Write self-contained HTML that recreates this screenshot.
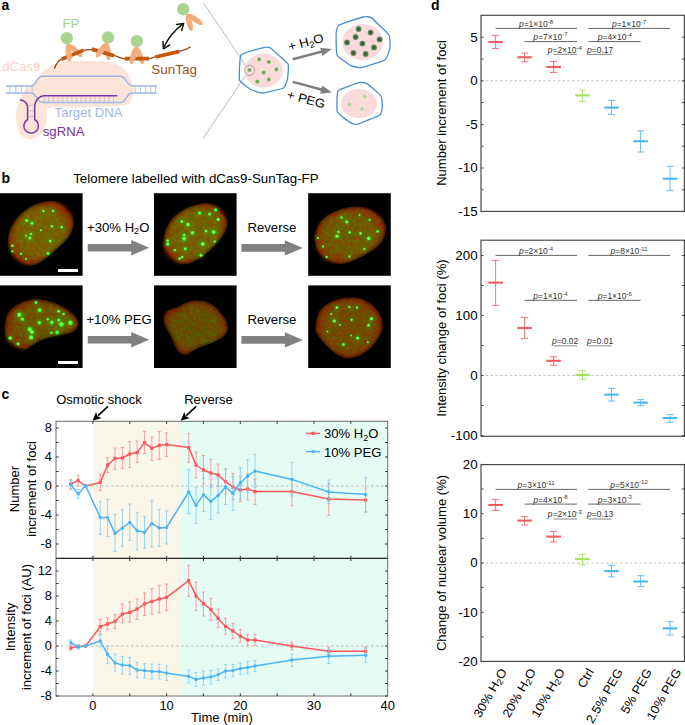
<!DOCTYPE html>
<html><head><meta charset="utf-8"><style>
html,body{margin:0;padding:0;background:#fff;}
svg{display:block;}
text{font-family:"Liberation Sans", sans-serif;}
</style></head><body>
<svg width="685" height="725" viewBox="0 0 685 725" font-family='"Liberation Sans", sans-serif'>
<rect width="685" height="725" fill="#fff"/>
<rect x="92.90" y="421.3" width="88.44" height="274.7" fill="#fbf6ea"/>
<rect x="181.34" y="421.3" width="206.36" height="274.7" fill="#e5fcf5"/>
<line x1="56.0" y1="486.0" x2="387.7" y2="486.0" stroke="#b0b0b0" stroke-width="0.8" stroke-dasharray="2.5,2.5"/>
<line x1="56.0" y1="646.0" x2="387.7" y2="646.0" stroke="#b0b0b0" stroke-width="0.8" stroke-dasharray="2.5,2.5"/>
<path d="M70.79 479.4V489.6M69.19 479.4h3.2M69.19 489.6h3.2" stroke="#f88a8c" stroke-width="0.8" fill="none"/>
<path d="M78.16 475.4V486M76.56 475.4h3.2M76.56 486h3.2" stroke="#f88a8c" stroke-width="0.8" fill="none"/>
<path d="M100.27 474V490.4M98.67 474h3.2M98.67 490.4h3.2" stroke="#f88a8c" stroke-width="0.8" fill="none"/>
<path d="M107.64 458V472.4M106.04 458h3.2M106.04 472.4h3.2" stroke="#f88a8c" stroke-width="0.8" fill="none"/>
<path d="M115.01 448V469.4M113.41 448h3.2M113.41 469.4h3.2" stroke="#f88a8c" stroke-width="0.8" fill="none"/>
<path d="M122.38 447.4V468.6M120.78 447.4h3.2M120.78 468.6h3.2" stroke="#f88a8c" stroke-width="0.8" fill="none"/>
<path d="M129.75 441.4V467.4M128.15 441.4h3.2M128.15 467.4h3.2" stroke="#f88a8c" stroke-width="0.8" fill="none"/>
<path d="M137.12 441V462.6M135.52 441h3.2M135.52 462.6h3.2" stroke="#f88a8c" stroke-width="0.8" fill="none"/>
<path d="M144.49 431.4V453.6M142.89 431.4h3.2M142.89 453.6h3.2" stroke="#f88a8c" stroke-width="0.8" fill="none"/>
<path d="M151.86 437V460.4M150.26 437h3.2M150.26 460.4h3.2" stroke="#f88a8c" stroke-width="0.8" fill="none"/>
<path d="M159.23 431.6V459.4M157.63 431.6h3.2M157.63 459.4h3.2" stroke="#f88a8c" stroke-width="0.8" fill="none"/>
<path d="M166.60 433V456.4M165.00 433h3.2M165.00 456.4h3.2" stroke="#f88a8c" stroke-width="0.8" fill="none"/>
<path d="M188.71 433.4V462.4M187.11 433.4h3.2M187.11 462.4h3.2" stroke="#f88a8c" stroke-width="0.8" fill="none"/>
<path d="M196.08 452V478M194.48 452h3.2M194.48 478h3.2" stroke="#f88a8c" stroke-width="0.8" fill="none"/>
<path d="M203.45 455.4V484M201.85 455.4h3.2M201.85 484h3.2" stroke="#f88a8c" stroke-width="0.8" fill="none"/>
<path d="M210.82 459.4V487M209.22 459.4h3.2M209.22 487h3.2" stroke="#f88a8c" stroke-width="0.8" fill="none"/>
<path d="M218.19 464V486.6M216.59 464h3.2M216.59 486.6h3.2" stroke="#f88a8c" stroke-width="0.8" fill="none"/>
<path d="M225.56 469V494M223.96 469h3.2M223.96 494h3.2" stroke="#f88a8c" stroke-width="0.8" fill="none"/>
<path d="M232.93 473.4V499.6M231.33 473.4h3.2M231.33 499.6h3.2" stroke="#f88a8c" stroke-width="0.8" fill="none"/>
<path d="M240.30 476.6V501.6M238.70 476.6h3.2M238.70 501.6h3.2" stroke="#f88a8c" stroke-width="0.8" fill="none"/>
<path d="M247.67 474V500M246.07 474h3.2M246.07 500h3.2" stroke="#f88a8c" stroke-width="0.8" fill="none"/>
<path d="M255.04 479V504.4M253.44 479h3.2M253.44 504.4h3.2" stroke="#f88a8c" stroke-width="0.8" fill="none"/>
<path d="M291.89 478.6V505.6M290.29 478.6h3.2M290.29 505.6h3.2" stroke="#f88a8c" stroke-width="0.8" fill="none"/>
<path d="M328.74 483.4V515.4M327.14 483.4h3.2M327.14 515.4h3.2" stroke="#f88a8c" stroke-width="0.8" fill="none"/>
<path d="M365.59 488V512M363.99 488h3.2M363.99 512h3.2" stroke="#f88a8c" stroke-width="0.8" fill="none"/>
<polyline points="70.79,484 78.16,480.6 85.53,486 100.27,482.4 107.64,465 115.01,458.4 122.38,458 129.75,454 137.12,452.6 144.49,442.6 151.86,448.4 159.23,445.4 166.60,444.6 188.71,447.6 196.08,465 203.45,470 210.82,473 218.19,475 225.56,481.6 232.93,487 240.30,490 247.67,489 255.04,491.6 291.89,491.6 328.74,499 365.59,500" fill="none" stroke="#f8595e" stroke-width="1.5" stroke-linejoin="round"/>
<rect x="69.19" y="482.4" width="3.2" height="3.2" fill="#f8595e"/>
<rect x="76.56" y="479.0" width="3.2" height="3.2" fill="#f8595e"/>
<rect x="83.93" y="484.4" width="3.2" height="3.2" fill="#f8595e"/>
<rect x="98.67" y="480.79999999999995" width="3.2" height="3.2" fill="#f8595e"/>
<rect x="106.04" y="463.4" width="3.2" height="3.2" fill="#f8595e"/>
<rect x="113.41" y="456.79999999999995" width="3.2" height="3.2" fill="#f8595e"/>
<rect x="120.78" y="456.4" width="3.2" height="3.2" fill="#f8595e"/>
<rect x="128.15" y="452.4" width="3.2" height="3.2" fill="#f8595e"/>
<rect x="135.52" y="451.0" width="3.2" height="3.2" fill="#f8595e"/>
<rect x="142.89" y="441.0" width="3.2" height="3.2" fill="#f8595e"/>
<rect x="150.26" y="446.79999999999995" width="3.2" height="3.2" fill="#f8595e"/>
<rect x="157.63" y="443.79999999999995" width="3.2" height="3.2" fill="#f8595e"/>
<rect x="165.00" y="443.0" width="3.2" height="3.2" fill="#f8595e"/>
<rect x="187.11" y="446.0" width="3.2" height="3.2" fill="#f8595e"/>
<rect x="194.48" y="463.4" width="3.2" height="3.2" fill="#f8595e"/>
<rect x="201.85" y="468.4" width="3.2" height="3.2" fill="#f8595e"/>
<rect x="209.22" y="471.4" width="3.2" height="3.2" fill="#f8595e"/>
<rect x="216.59" y="473.4" width="3.2" height="3.2" fill="#f8595e"/>
<rect x="223.96" y="480.0" width="3.2" height="3.2" fill="#f8595e"/>
<rect x="231.33" y="485.4" width="3.2" height="3.2" fill="#f8595e"/>
<rect x="238.70" y="488.4" width="3.2" height="3.2" fill="#f8595e"/>
<rect x="246.07" y="487.4" width="3.2" height="3.2" fill="#f8595e"/>
<rect x="253.44" y="490.0" width="3.2" height="3.2" fill="#f8595e"/>
<rect x="290.29" y="490.0" width="3.2" height="3.2" fill="#f8595e"/>
<rect x="327.14" y="497.4" width="3.2" height="3.2" fill="#f8595e"/>
<rect x="363.99" y="498.4" width="3.2" height="3.2" fill="#f8595e"/>
<path d="M70.79 480.6V488.6M69.19 480.6h3.2M69.19 488.6h3.2" stroke="#7fcbf6" stroke-width="0.8" fill="none"/>
<path d="M78.16 489.5V498.5M76.56 489.5h3.2M76.56 498.5h3.2" stroke="#7fcbf6" stroke-width="0.8" fill="none"/>
<path d="M100.27 501.4V534.4M98.67 501.4h3.2M98.67 534.4h3.2" stroke="#7fcbf6" stroke-width="0.8" fill="none"/>
<path d="M107.64 499.4V536.4M106.04 499.4h3.2M106.04 536.4h3.2" stroke="#7fcbf6" stroke-width="0.8" fill="none"/>
<path d="M115.01 514.4V551.4M113.41 514.4h3.2M113.41 551.4h3.2" stroke="#7fcbf6" stroke-width="0.8" fill="none"/>
<path d="M122.38 509.4V546.4M120.78 509.4h3.2M120.78 546.4h3.2" stroke="#7fcbf6" stroke-width="0.8" fill="none"/>
<path d="M129.75 504V540.4M128.15 504h3.2M128.15 540.4h3.2" stroke="#7fcbf6" stroke-width="0.8" fill="none"/>
<path d="M137.12 512.4V550M135.52 512.4h3.2M135.52 550h3.2" stroke="#7fcbf6" stroke-width="0.8" fill="none"/>
<path d="M144.49 516.4V548.4M142.89 516.4h3.2M142.89 548.4h3.2" stroke="#7fcbf6" stroke-width="0.8" fill="none"/>
<path d="M151.86 500.4V547M150.26 500.4h3.2M150.26 547h3.2" stroke="#7fcbf6" stroke-width="0.8" fill="none"/>
<path d="M159.23 509.4V546.4M157.63 509.4h3.2M157.63 546.4h3.2" stroke="#7fcbf6" stroke-width="0.8" fill="none"/>
<path d="M166.60 511V544M165.00 511h3.2M165.00 544h3.2" stroke="#7fcbf6" stroke-width="0.8" fill="none"/>
<path d="M188.71 469.6V513.6M187.11 469.6h3.2M187.11 513.6h3.2" stroke="#7fcbf6" stroke-width="0.8" fill="none"/>
<path d="M196.08 487.4V523.6M194.48 487.4h3.2M194.48 523.6h3.2" stroke="#7fcbf6" stroke-width="0.8" fill="none"/>
<path d="M203.45 478V511.4M201.85 478h3.2M201.85 511.4h3.2" stroke="#7fcbf6" stroke-width="0.8" fill="none"/>
<path d="M210.82 484.4V519.4M209.22 484.4h3.2M209.22 519.4h3.2" stroke="#7fcbf6" stroke-width="0.8" fill="none"/>
<path d="M218.19 478V513M216.59 478h3.2M216.59 513h3.2" stroke="#7fcbf6" stroke-width="0.8" fill="none"/>
<path d="M225.56 469.4V504.4M223.96 469.4h3.2M223.96 504.4h3.2" stroke="#7fcbf6" stroke-width="0.8" fill="none"/>
<path d="M232.93 476.4V510.4M231.33 476.4h3.2M231.33 510.4h3.2" stroke="#7fcbf6" stroke-width="0.8" fill="none"/>
<path d="M240.30 467.4V499.4M238.70 467.4h3.2M238.70 499.4h3.2" stroke="#7fcbf6" stroke-width="0.8" fill="none"/>
<path d="M247.67 459.4V493M246.07 459.4h3.2M246.07 493h3.2" stroke="#7fcbf6" stroke-width="0.8" fill="none"/>
<path d="M255.04 454.4V487.4M253.44 454.4h3.2M253.44 487.4h3.2" stroke="#7fcbf6" stroke-width="0.8" fill="none"/>
<path d="M291.89 462.4V496M290.29 462.4h3.2M290.29 496h3.2" stroke="#7fcbf6" stroke-width="0.8" fill="none"/>
<path d="M328.74 480V503.6M327.14 480h3.2M327.14 503.6h3.2" stroke="#7fcbf6" stroke-width="0.8" fill="none"/>
<path d="M365.59 477.4V512M363.99 477.4h3.2M363.99 512h3.2" stroke="#7fcbf6" stroke-width="0.8" fill="none"/>
<polyline points="70.79,484.6 78.16,494 85.53,485.6 100.27,517.6 107.64,517.6 115.01,533.4 122.38,528 129.75,522.4 137.12,530.6 144.49,532.4 151.86,523.4 159.23,528 166.60,527.4 188.71,492 196.08,505.4 203.45,494.6 210.82,501.6 218.19,495.4 225.56,487 232.93,493.4 240.30,483 247.67,476 255.04,471 291.89,479.4 328.74,492 365.59,494.6" fill="none" stroke="#4cb4f4" stroke-width="1.5" stroke-linejoin="round"/>
<circle cx="70.79" cy="484.6" r="1.7" fill="#4cb4f4"/>
<circle cx="78.16" cy="494" r="1.7" fill="#4cb4f4"/>
<circle cx="85.53" cy="485.6" r="1.7" fill="#4cb4f4"/>
<circle cx="100.27" cy="517.6" r="1.7" fill="#4cb4f4"/>
<circle cx="107.64" cy="517.6" r="1.7" fill="#4cb4f4"/>
<circle cx="115.01" cy="533.4" r="1.7" fill="#4cb4f4"/>
<circle cx="122.38" cy="528" r="1.7" fill="#4cb4f4"/>
<circle cx="129.75" cy="522.4" r="1.7" fill="#4cb4f4"/>
<circle cx="137.12" cy="530.6" r="1.7" fill="#4cb4f4"/>
<circle cx="144.49" cy="532.4" r="1.7" fill="#4cb4f4"/>
<circle cx="151.86" cy="523.4" r="1.7" fill="#4cb4f4"/>
<circle cx="159.23" cy="528" r="1.7" fill="#4cb4f4"/>
<circle cx="166.60" cy="527.4" r="1.7" fill="#4cb4f4"/>
<circle cx="188.71" cy="492" r="1.7" fill="#4cb4f4"/>
<circle cx="196.08" cy="505.4" r="1.7" fill="#4cb4f4"/>
<circle cx="203.45" cy="494.6" r="1.7" fill="#4cb4f4"/>
<circle cx="210.82" cy="501.6" r="1.7" fill="#4cb4f4"/>
<circle cx="218.19" cy="495.4" r="1.7" fill="#4cb4f4"/>
<circle cx="225.56" cy="487" r="1.7" fill="#4cb4f4"/>
<circle cx="232.93" cy="493.4" r="1.7" fill="#4cb4f4"/>
<circle cx="240.30" cy="483" r="1.7" fill="#4cb4f4"/>
<circle cx="247.67" cy="476" r="1.7" fill="#4cb4f4"/>
<circle cx="255.04" cy="471" r="1.7" fill="#4cb4f4"/>
<circle cx="291.89" cy="479.4" r="1.7" fill="#4cb4f4"/>
<circle cx="328.74" cy="492" r="1.7" fill="#4cb4f4"/>
<circle cx="365.59" cy="494.6" r="1.7" fill="#4cb4f4"/>
<path d="M70.79 645V650M69.19 645h3.2M69.19 650h3.2" stroke="#f88a8c" stroke-width="0.8" fill="none"/>
<path d="M78.16 645V648M76.56 645h3.2M76.56 648h3.2" stroke="#f88a8c" stroke-width="0.8" fill="none"/>
<path d="M100.27 619.4V634M98.67 619.4h3.2M98.67 634h3.2" stroke="#f88a8c" stroke-width="0.8" fill="none"/>
<path d="M107.64 618V629.6M106.04 618h3.2M106.04 629.6h3.2" stroke="#f88a8c" stroke-width="0.8" fill="none"/>
<path d="M115.01 614.6V628.4M113.41 614.6h3.2M113.41 628.4h3.2" stroke="#f88a8c" stroke-width="0.8" fill="none"/>
<path d="M122.38 604V623M120.78 604h3.2M120.78 623h3.2" stroke="#f88a8c" stroke-width="0.8" fill="none"/>
<path d="M129.75 602V622M128.15 602h3.2M128.15 622h3.2" stroke="#f88a8c" stroke-width="0.8" fill="none"/>
<path d="M137.12 599V619.4M135.52 599h3.2M135.52 619.4h3.2" stroke="#f88a8c" stroke-width="0.8" fill="none"/>
<path d="M144.49 593V615.4M142.89 593h3.2M142.89 615.4h3.2" stroke="#f88a8c" stroke-width="0.8" fill="none"/>
<path d="M151.86 588.6V614M150.26 588.6h3.2M150.26 614h3.2" stroke="#f88a8c" stroke-width="0.8" fill="none"/>
<path d="M159.23 585.4V612.6M157.63 585.4h3.2M157.63 612.6h3.2" stroke="#f88a8c" stroke-width="0.8" fill="none"/>
<path d="M166.60 584V610.6M165.00 584h3.2M165.00 610.6h3.2" stroke="#f88a8c" stroke-width="0.8" fill="none"/>
<path d="M188.71 565.4V596.4M187.11 565.4h3.2M187.11 596.4h3.2" stroke="#f88a8c" stroke-width="0.8" fill="none"/>
<path d="M196.08 582V610.4M194.48 582h3.2M194.48 610.4h3.2" stroke="#f88a8c" stroke-width="0.8" fill="none"/>
<path d="M203.45 592V616M201.85 592h3.2M201.85 616h3.2" stroke="#f88a8c" stroke-width="0.8" fill="none"/>
<path d="M210.82 598.4V620.4M209.22 598.4h3.2M209.22 620.4h3.2" stroke="#f88a8c" stroke-width="0.8" fill="none"/>
<path d="M218.19 609V627.4M216.59 609h3.2M216.59 627.4h3.2" stroke="#f88a8c" stroke-width="0.8" fill="none"/>
<path d="M225.56 618.4V634.4M223.96 618.4h3.2M223.96 634.4h3.2" stroke="#f88a8c" stroke-width="0.8" fill="none"/>
<path d="M232.93 623.4V638.4M231.33 623.4h3.2M231.33 638.4h3.2" stroke="#f88a8c" stroke-width="0.8" fill="none"/>
<path d="M240.30 629.4V642.4M238.70 629.4h3.2M238.70 642.4h3.2" stroke="#f88a8c" stroke-width="0.8" fill="none"/>
<path d="M247.67 634.4V645.6M246.07 634.4h3.2M246.07 645.6h3.2" stroke="#f88a8c" stroke-width="0.8" fill="none"/>
<path d="M255.04 634.4V645.6M253.44 634.4h3.2M253.44 645.6h3.2" stroke="#f88a8c" stroke-width="0.8" fill="none"/>
<path d="M291.89 642.3V650M290.29 642.3h3.2M290.29 650h3.2" stroke="#f88a8c" stroke-width="0.8" fill="none"/>
<path d="M328.74 647V654.7M327.14 647h3.2M327.14 654.7h3.2" stroke="#f88a8c" stroke-width="0.8" fill="none"/>
<path d="M365.59 647V655M363.99 647h3.2M363.99 655h3.2" stroke="#f88a8c" stroke-width="0.8" fill="none"/>
<polyline points="70.79,648 78.16,646.4 85.53,646 100.27,626.6 107.64,624 115.01,621.4 122.38,614 129.75,612.4 137.12,609 144.49,604 151.86,601.4 159.23,599 166.60,597.4 188.71,580.6 196.08,596 203.45,603.6 210.82,609.4 218.19,618.4 225.56,626.4 232.93,631 240.30,636 247.67,640 255.04,640 291.89,646 328.74,651.2 365.59,651.2" fill="none" stroke="#f8595e" stroke-width="1.5" stroke-linejoin="round"/>
<rect x="69.19" y="646.4" width="3.2" height="3.2" fill="#f8595e"/>
<rect x="76.56" y="644.8" width="3.2" height="3.2" fill="#f8595e"/>
<rect x="83.93" y="644.4" width="3.2" height="3.2" fill="#f8595e"/>
<rect x="98.67" y="625.0" width="3.2" height="3.2" fill="#f8595e"/>
<rect x="106.04" y="622.4" width="3.2" height="3.2" fill="#f8595e"/>
<rect x="113.41" y="619.8" width="3.2" height="3.2" fill="#f8595e"/>
<rect x="120.78" y="612.4" width="3.2" height="3.2" fill="#f8595e"/>
<rect x="128.15" y="610.8" width="3.2" height="3.2" fill="#f8595e"/>
<rect x="135.52" y="607.4" width="3.2" height="3.2" fill="#f8595e"/>
<rect x="142.89" y="602.4" width="3.2" height="3.2" fill="#f8595e"/>
<rect x="150.26" y="599.8" width="3.2" height="3.2" fill="#f8595e"/>
<rect x="157.63" y="597.4" width="3.2" height="3.2" fill="#f8595e"/>
<rect x="165.00" y="595.8" width="3.2" height="3.2" fill="#f8595e"/>
<rect x="187.11" y="579.0" width="3.2" height="3.2" fill="#f8595e"/>
<rect x="194.48" y="594.4" width="3.2" height="3.2" fill="#f8595e"/>
<rect x="201.85" y="602.0" width="3.2" height="3.2" fill="#f8595e"/>
<rect x="209.22" y="607.8" width="3.2" height="3.2" fill="#f8595e"/>
<rect x="216.59" y="616.8" width="3.2" height="3.2" fill="#f8595e"/>
<rect x="223.96" y="624.8" width="3.2" height="3.2" fill="#f8595e"/>
<rect x="231.33" y="629.4" width="3.2" height="3.2" fill="#f8595e"/>
<rect x="238.70" y="634.4" width="3.2" height="3.2" fill="#f8595e"/>
<rect x="246.07" y="638.4" width="3.2" height="3.2" fill="#f8595e"/>
<rect x="253.44" y="638.4" width="3.2" height="3.2" fill="#f8595e"/>
<rect x="290.29" y="644.4" width="3.2" height="3.2" fill="#f8595e"/>
<rect x="327.14" y="649.6" width="3.2" height="3.2" fill="#f8595e"/>
<rect x="363.99" y="649.6" width="3.2" height="3.2" fill="#f8595e"/>
<path d="M70.79 640V645M69.19 640h3.2M69.19 645h3.2" stroke="#7fcbf6" stroke-width="0.8" fill="none"/>
<path d="M78.16 645V649M76.56 645h3.2M76.56 649h3.2" stroke="#7fcbf6" stroke-width="0.8" fill="none"/>
<path d="M100.27 635V647M98.67 635h3.2M98.67 647h3.2" stroke="#7fcbf6" stroke-width="0.8" fill="none"/>
<path d="M107.64 646.4V663.6M106.04 646.4h3.2M106.04 663.6h3.2" stroke="#7fcbf6" stroke-width="0.8" fill="none"/>
<path d="M115.01 654V671M113.41 654h3.2M113.41 671h3.2" stroke="#7fcbf6" stroke-width="0.8" fill="none"/>
<path d="M122.38 656.4V674M120.78 656.4h3.2M120.78 674h3.2" stroke="#7fcbf6" stroke-width="0.8" fill="none"/>
<path d="M129.75 657.4V674.4M128.15 657.4h3.2M128.15 674.4h3.2" stroke="#7fcbf6" stroke-width="0.8" fill="none"/>
<path d="M137.12 662.4V677.6M135.52 662.4h3.2M135.52 677.6h3.2" stroke="#7fcbf6" stroke-width="0.8" fill="none"/>
<path d="M144.49 663.6V678M142.89 663.6h3.2M142.89 678h3.2" stroke="#7fcbf6" stroke-width="0.8" fill="none"/>
<path d="M151.86 664V679M150.26 664h3.2M150.26 679h3.2" stroke="#7fcbf6" stroke-width="0.8" fill="none"/>
<path d="M159.23 664.4V679M157.63 664.4h3.2M157.63 679h3.2" stroke="#7fcbf6" stroke-width="0.8" fill="none"/>
<path d="M166.60 666V680.4M165.00 666h3.2M165.00 680.4h3.2" stroke="#7fcbf6" stroke-width="0.8" fill="none"/>
<path d="M188.71 670V683M187.11 670h3.2M187.11 683h3.2" stroke="#7fcbf6" stroke-width="0.8" fill="none"/>
<path d="M196.08 672.4V686.6M194.48 672.4h3.2M194.48 686.6h3.2" stroke="#7fcbf6" stroke-width="0.8" fill="none"/>
<path d="M203.45 671V685M201.85 671h3.2M201.85 685h3.2" stroke="#7fcbf6" stroke-width="0.8" fill="none"/>
<path d="M210.82 670.4V684M209.22 670.4h3.2M209.22 684h3.2" stroke="#7fcbf6" stroke-width="0.8" fill="none"/>
<path d="M218.19 669V680.4M216.59 669h3.2M216.59 680.4h3.2" stroke="#7fcbf6" stroke-width="0.8" fill="none"/>
<path d="M225.56 664.4V677.6M223.96 664.4h3.2M223.96 677.6h3.2" stroke="#7fcbf6" stroke-width="0.8" fill="none"/>
<path d="M232.93 664.4V676.6M231.33 664.4h3.2M231.33 676.6h3.2" stroke="#7fcbf6" stroke-width="0.8" fill="none"/>
<path d="M240.30 663V674.4M238.70 663h3.2M238.70 674.4h3.2" stroke="#7fcbf6" stroke-width="0.8" fill="none"/>
<path d="M247.67 661.4V673.6M246.07 661.4h3.2M246.07 673.6h3.2" stroke="#7fcbf6" stroke-width="0.8" fill="none"/>
<path d="M255.04 660.6V671.6M253.44 660.6h3.2M253.44 671.6h3.2" stroke="#7fcbf6" stroke-width="0.8" fill="none"/>
<path d="M291.89 654.2V666.4M290.29 654.2h3.2M290.29 666.4h3.2" stroke="#7fcbf6" stroke-width="0.8" fill="none"/>
<path d="M328.74 649.3V663.6M327.14 649.3h3.2M327.14 663.6h3.2" stroke="#7fcbf6" stroke-width="0.8" fill="none"/>
<path d="M365.59 648V662.4M363.99 648h3.2M363.99 662.4h3.2" stroke="#7fcbf6" stroke-width="0.8" fill="none"/>
<polyline points="70.79,642.6 78.16,647 85.53,646 100.27,641 107.64,654.4 115.01,663 122.38,665 129.75,665.6 137.12,670 144.49,670.6 151.86,671.4 159.23,671.6 166.60,673 188.71,676.4 196.08,679.4 203.45,678 210.82,677 218.19,674.6 225.56,671 232.93,670.4 240.30,668.6 247.67,667.6 255.04,666 291.89,660 328.74,656.3 365.59,655.2" fill="none" stroke="#4cb4f4" stroke-width="1.5" stroke-linejoin="round"/>
<circle cx="70.79" cy="642.6" r="1.7" fill="#4cb4f4"/>
<circle cx="78.16" cy="647" r="1.7" fill="#4cb4f4"/>
<circle cx="85.53" cy="646" r="1.7" fill="#4cb4f4"/>
<circle cx="100.27" cy="641" r="1.7" fill="#4cb4f4"/>
<circle cx="107.64" cy="654.4" r="1.7" fill="#4cb4f4"/>
<circle cx="115.01" cy="663" r="1.7" fill="#4cb4f4"/>
<circle cx="122.38" cy="665" r="1.7" fill="#4cb4f4"/>
<circle cx="129.75" cy="665.6" r="1.7" fill="#4cb4f4"/>
<circle cx="137.12" cy="670" r="1.7" fill="#4cb4f4"/>
<circle cx="144.49" cy="670.6" r="1.7" fill="#4cb4f4"/>
<circle cx="151.86" cy="671.4" r="1.7" fill="#4cb4f4"/>
<circle cx="159.23" cy="671.6" r="1.7" fill="#4cb4f4"/>
<circle cx="166.60" cy="673" r="1.7" fill="#4cb4f4"/>
<circle cx="188.71" cy="676.4" r="1.7" fill="#4cb4f4"/>
<circle cx="196.08" cy="679.4" r="1.7" fill="#4cb4f4"/>
<circle cx="203.45" cy="678" r="1.7" fill="#4cb4f4"/>
<circle cx="210.82" cy="677" r="1.7" fill="#4cb4f4"/>
<circle cx="218.19" cy="674.6" r="1.7" fill="#4cb4f4"/>
<circle cx="225.56" cy="671" r="1.7" fill="#4cb4f4"/>
<circle cx="232.93" cy="670.4" r="1.7" fill="#4cb4f4"/>
<circle cx="240.30" cy="668.6" r="1.7" fill="#4cb4f4"/>
<circle cx="247.67" cy="667.6" r="1.7" fill="#4cb4f4"/>
<circle cx="255.04" cy="666" r="1.7" fill="#4cb4f4"/>
<circle cx="291.89" cy="660" r="1.7" fill="#4cb4f4"/>
<circle cx="328.74" cy="656.3" r="1.7" fill="#4cb4f4"/>
<circle cx="365.59" cy="655.2" r="1.7" fill="#4cb4f4"/>
<rect x="56.0" y="421.3" width="331.7" height="274.7" fill="none" stroke="#6a6a6a" stroke-width="1"/>
<line x1="56.0" y1="558.4" x2="387.7" y2="558.4" stroke="#222" stroke-width="1.2"/>
<path d="M92.90 421.3v2.6M92.90 555.8v5.2M92.90 696.0v-2.6M129.75 421.3v2.6M129.75 555.8v5.2M129.75 696.0v-2.6M166.60 421.3v2.6M166.60 555.8v5.2M166.60 696.0v-2.6M203.45 421.3v2.6M203.45 555.8v5.2M203.45 696.0v-2.6M240.30 421.3v2.6M240.30 555.8v5.2M240.30 696.0v-2.6M277.15 421.3v2.6M277.15 555.8v5.2M277.15 696.0v-2.6M314.00 421.3v2.6M314.00 555.8v5.2M314.00 696.0v-2.6M350.85 421.3v2.6M350.85 555.8v5.2M350.85 696.0v-2.6M56.0 558.50h2.6M387.7 558.50h-2.6M56.0 544.00h2.6M387.7 544.00h-2.6M56.0 529.50h2.6M387.7 529.50h-2.6M56.0 515.00h2.6M387.7 515.00h-2.6M56.0 500.50h2.6M387.7 500.50h-2.6M56.0 486.00h2.6M387.7 486.00h-2.6M56.0 471.50h2.6M387.7 471.50h-2.6M56.0 457.00h2.6M387.7 457.00h-2.6M56.0 442.50h2.6M387.7 442.50h-2.6M56.0 428.00h2.6M387.7 428.00h-2.6M56.0 696.00h2.6M387.7 696.00h-2.6M56.0 683.50h2.6M387.7 683.50h-2.6M56.0 671.00h2.6M387.7 671.00h-2.6M56.0 658.50h2.6M387.7 658.50h-2.6M56.0 646.00h2.6M387.7 646.00h-2.6M56.0 633.50h2.6M387.7 633.50h-2.6M56.0 621.00h2.6M387.7 621.00h-2.6M56.0 608.50h2.6M387.7 608.50h-2.6M56.0 596.00h2.6M387.7 596.00h-2.6M56.0 583.50h2.6M387.7 583.50h-2.6M56.0 571.00h2.6M387.7 571.00h-2.6" stroke="#333" stroke-width="1" fill="none"/>
<text transform="translate(52.00,432.20) scale(1.07,1)" font-size="12.0" text-anchor="end">8</text>
<text transform="translate(52.00,461.20) scale(1.07,1)" font-size="12.0" text-anchor="end">4</text>
<text transform="translate(52.00,490.20) scale(1.07,1)" font-size="12.0" text-anchor="end">0</text>
<text transform="translate(52.00,519.20) scale(1.07,1)" font-size="12.0" text-anchor="end">-4</text>
<text transform="translate(52.00,548.20) scale(1.07,1)" font-size="12.0" text-anchor="end">-8</text>
<text transform="translate(52.00,575.20) scale(1.07,1)" font-size="12.0" text-anchor="end">12</text>
<text transform="translate(52.00,600.20) scale(1.07,1)" font-size="12.0" text-anchor="end">8</text>
<text transform="translate(52.00,625.20) scale(1.07,1)" font-size="12.0" text-anchor="end">4</text>
<text transform="translate(52.00,650.20) scale(1.07,1)" font-size="12.0" text-anchor="end">0</text>
<text transform="translate(52.00,675.20) scale(1.07,1)" font-size="12.0" text-anchor="end">-4</text>
<text transform="translate(52.00,700.20) scale(1.07,1)" font-size="12.0" text-anchor="end">-8</text>
<text transform="translate(92.90,709.60) scale(1.07,1)" font-size="12.0" text-anchor="middle">0</text>
<text transform="translate(166.60,709.60) scale(1.07,1)" font-size="12.0" text-anchor="middle">10</text>
<text transform="translate(240.30,709.60) scale(1.07,1)" font-size="12.0" text-anchor="middle">20</text>
<text transform="translate(314.00,709.60) scale(1.07,1)" font-size="12.0" text-anchor="middle">30</text>
<text transform="translate(387.70,709.60) scale(1.07,1)" font-size="12.0" text-anchor="middle">40</text>
<text transform="translate(222.00,721.60) scale(1.07,1)" font-size="12.2" text-anchor="middle">Time (min)</text>
<text transform="translate(19.00,489.00) rotate(-90) scale(1.07,1)" font-size="12.2" text-anchor="middle">Number</text>
<text transform="translate(35.50,489.00) rotate(-90) scale(1.07,1)" font-size="12.2" text-anchor="middle">increment of foci</text>
<text transform="translate(14.80,627.00) rotate(-90) scale(1.07,1)" font-size="12.2" text-anchor="middle">Intensity</text>
<text transform="translate(31.20,627.00) rotate(-90) scale(1.07,1)" font-size="12.2" text-anchor="middle">increment of foci (AU)</text>
<text transform="translate(1.40,399.00) scale(1.0,1)" font-size="14" font-weight="bold">c</text>
<text transform="translate(56.20,404.00) scale(1.07,1)" font-size="12.2">Osmotic shock</text>
<text transform="translate(184.20,404.00) scale(1.07,1)" font-size="12.2">Reverse</text>
<g transform="translate(108,406.3) rotate(136.72)"><path d="M0 0H13.65" stroke="#000" stroke-width="1.6"/><path d="M21.15 0L12.65 -4.0L14.45 0L12.65 4.0Z" fill="#000"/></g>
<g transform="translate(196.2,406.3) rotate(136.72)"><path d="M0 0H13.65" stroke="#000" stroke-width="1.6"/><path d="M21.15 0L12.65 -4.0L14.45 0L12.65 4.0Z" fill="#000"/></g>
<line x1="306" y1="433.4" x2="320" y2="433.4" stroke="#f8595e" stroke-width="1.5"/><rect x="311.4" y="431.8" width="3.2" height="3.2" fill="#f8595e"/>
<line x1="306" y1="451.6" x2="320" y2="451.6" stroke="#4cb4f4" stroke-width="1.5"/><circle cx="313" cy="451.6" r="1.7" fill="#4cb4f4"/>
<text transform="translate(324.00,438.00) scale(1.07,1)" font-size="12.2">30% H<tspan font-size="8.5" dy="2.5">2</tspan><tspan dy="-2.5">O</tspan></text>
<text transform="translate(324.00,456.60) scale(1.07,1)" font-size="12.2">10% PEG</text>
<text transform="translate(431.00,10.40) scale(1.0,1)" font-size="14" font-weight="bold">d</text>
<line x1="481.0" y1="80.80" x2="684.4" y2="80.80" stroke="#b8b8b8" stroke-width="0.9" stroke-dasharray="2.4,2.4"/>
<line x1="495.6" y1="28.4" x2="577.0" y2="28.4" stroke="#555" stroke-width="0.9"/>
<line x1="524.6" y1="41.6" x2="577.0" y2="41.6" stroke="#555" stroke-width="0.9"/>
<line x1="553.6" y1="54.4" x2="577.0" y2="54.4" stroke="#999" stroke-width="1.2"/>
<line x1="588.3" y1="28.4" x2="670.0" y2="28.4" stroke="#555" stroke-width="0.9"/>
<line x1="588.3" y1="41.6" x2="640.6" y2="41.6" stroke="#555" stroke-width="0.9"/>
<line x1="588.3" y1="54.4" x2="611.5" y2="54.4" stroke="#999" stroke-width="1.2"/>
<path d="M495.6 35.3V48.5M492.00 35.3h7.2M492.00 48.5h7.2" stroke="#f8595e" stroke-width="1" fill="none" opacity="0.85"/>
<line x1="488.30" y1="42" x2="502.90" y2="42" stroke="#f8595e" stroke-width="2.1"/>
<path d="M524.6 53V61.9M521.00 53h7.2M521.00 61.9h7.2" stroke="#f8595e" stroke-width="1" fill="none" opacity="0.85"/>
<line x1="517.30" y1="57.3" x2="531.90" y2="57.3" stroke="#f8595e" stroke-width="2.1"/>
<path d="M553.6 61.6V72.4M550.00 61.6h7.2M550.00 72.4h7.2" stroke="#f8595e" stroke-width="1" fill="none" opacity="0.85"/>
<line x1="546.30" y1="67" x2="560.90" y2="67" stroke="#f8595e" stroke-width="2.1"/>
<path d="M582.5 90V101.4M578.90 90h7.2M578.90 101.4h7.2" stroke="#a6e05a" stroke-width="1" fill="none" opacity="0.85"/>
<line x1="575.20" y1="95.4" x2="589.80" y2="95.4" stroke="#a6e05a" stroke-width="2.1"/>
<path d="M611.5 100.4V114.4M607.90 100.4h7.2M607.90 114.4h7.2" stroke="#4cb4f4" stroke-width="1" fill="none" opacity="0.85"/>
<line x1="604.20" y1="107.6" x2="618.80" y2="107.6" stroke="#4cb4f4" stroke-width="2.1"/>
<path d="M640.6 130.8V152M637.00 130.8h7.2M637.00 152h7.2" stroke="#4cb4f4" stroke-width="1" fill="none" opacity="0.85"/>
<line x1="633.30" y1="141.2" x2="647.90" y2="141.2" stroke="#4cb4f4" stroke-width="2.1"/>
<path d="M670.0 166.3V190.7M666.40 166.3h7.2M666.40 190.7h7.2" stroke="#4cb4f4" stroke-width="1" fill="none" opacity="0.85"/>
<line x1="662.70" y1="178.7" x2="677.30" y2="178.7" stroke="#4cb4f4" stroke-width="2.1"/>
<rect x="481.0" y="15.3" width="203.39999999999998" height="196.1" fill="none" stroke="#4a4a4a" stroke-width="1.2"/>
<path d="M481.0 37.20h2.6M684.4 37.20h-2.6M481.0 80.80h2.6M684.4 80.80h-2.6M481.0 124.40h2.6M684.4 124.40h-2.6M481.0 168.00h2.6M684.4 168.00h-2.6M481.0 211.60h2.6M684.4 211.60h-2.6M481.0 59.00h2.6M684.4 59.00h-2.6M481.0 102.60h2.6M684.4 102.60h-2.6M481.0 146.20h2.6M684.4 146.20h-2.6M481.0 189.80h2.6M684.4 189.80h-2.6" stroke="#4a4a4a" stroke-width="1" fill="none"/>
<text transform="translate(477.60,41.50) scale(1.07,1)" font-size="12.5" text-anchor="end">5</text>
<text transform="translate(477.60,85.10) scale(1.07,1)" font-size="12.5" text-anchor="end">0</text>
<text transform="translate(477.60,128.70) scale(1.07,1)" font-size="12.5" text-anchor="end">-5</text>
<text transform="translate(477.60,172.30) scale(1.07,1)" font-size="12.5" text-anchor="end">-10</text>
<text transform="translate(477.60,215.90) scale(1.07,1)" font-size="12.5" text-anchor="end">-15</text>
<text transform="translate(445.50,113.00) rotate(-90) scale(1.07,1)" font-size="12.2" text-anchor="middle">Number increment of foci</text>
<text x="536.00" y="27.00" text-anchor="middle" font-size="8.5" fill="#333"><tspan font-style="italic">p</tspan>=1×10<tspan font-size="6" dy="-3.4">-8</tspan></text>
<text x="550.40" y="39.60" text-anchor="middle" font-size="8.5" fill="#333"><tspan font-style="italic">p</tspan>=7×10<tspan font-size="6" dy="-3.4">-7</tspan></text>
<text x="564.80" y="52.90" text-anchor="middle" font-size="8.5" fill="#333"><tspan font-style="italic">p</tspan>=2×10<tspan font-size="6" dy="-3.4">-4</tspan></text>
<text x="629.00" y="26.90" text-anchor="middle" font-size="8.5" fill="#333"><tspan font-style="italic">p</tspan>=1×10<tspan font-size="6" dy="-3.4">-7</tspan></text>
<text x="614.80" y="39.90" text-anchor="middle" font-size="8.5" fill="#333"><tspan font-style="italic">p</tspan>=4×10<tspan font-size="6" dy="-3.4">-4</tspan></text>
<text x="600.20" y="53.10" text-anchor="middle" font-size="8.5" fill="#333"><tspan font-style="italic">p</tspan>=0.17</text>
<line x1="481.0" y1="375.50" x2="684.4" y2="375.50" stroke="#b8b8b8" stroke-width="0.9" stroke-dasharray="2.4,2.4"/>
<line x1="495.6" y1="255.4" x2="577.0" y2="255.4" stroke="#555" stroke-width="0.9"/>
<line x1="524.6" y1="300.3" x2="577.0" y2="300.3" stroke="#555" stroke-width="0.9"/>
<line x1="553.6" y1="345.8" x2="577.0" y2="345.8" stroke="#999" stroke-width="1.2"/>
<line x1="588.3" y1="255.4" x2="670.0" y2="255.4" stroke="#555" stroke-width="0.9"/>
<line x1="588.3" y1="300.3" x2="640.6" y2="300.3" stroke="#555" stroke-width="0.9"/>
<line x1="588.3" y1="345.8" x2="611.5" y2="345.8" stroke="#999" stroke-width="1.2"/>
<path d="M495.6 260.4V305.4M492.00 260.4h7.2M492.00 305.4h7.2" stroke="#f8595e" stroke-width="1" fill="none" opacity="0.85"/>
<line x1="488.30" y1="282.6" x2="502.90" y2="282.6" stroke="#f8595e" stroke-width="2.1"/>
<path d="M524.6 317.4V338.6M521.00 317.4h7.2M521.00 338.6h7.2" stroke="#f8595e" stroke-width="1" fill="none" opacity="0.85"/>
<line x1="517.30" y1="328" x2="531.90" y2="328" stroke="#f8595e" stroke-width="2.1"/>
<path d="M553.6 356.8V365.2M550.00 356.8h7.2M550.00 365.2h7.2" stroke="#f8595e" stroke-width="1" fill="none" opacity="0.85"/>
<line x1="546.30" y1="360.8" x2="560.90" y2="360.8" stroke="#f8595e" stroke-width="2.1"/>
<path d="M582.5 370.6V379.4M578.90 370.6h7.2M578.90 379.4h7.2" stroke="#a6e05a" stroke-width="1" fill="none" opacity="0.85"/>
<line x1="575.20" y1="375" x2="589.80" y2="375" stroke="#a6e05a" stroke-width="2.1"/>
<path d="M611.5 388.4V401M607.90 388.4h7.2M607.90 401h7.2" stroke="#4cb4f4" stroke-width="1" fill="none" opacity="0.85"/>
<line x1="604.20" y1="394.6" x2="618.80" y2="394.6" stroke="#4cb4f4" stroke-width="2.1"/>
<path d="M640.6 399.6V405.6M637.00 399.6h7.2M637.00 405.6h7.2" stroke="#4cb4f4" stroke-width="1" fill="none" opacity="0.85"/>
<line x1="633.30" y1="402.6" x2="647.90" y2="402.6" stroke="#4cb4f4" stroke-width="2.1"/>
<path d="M670.0 414.6V422.4M666.40 414.6h7.2M666.40 422.4h7.2" stroke="#4cb4f4" stroke-width="1" fill="none" opacity="0.85"/>
<line x1="662.70" y1="418" x2="677.30" y2="418" stroke="#4cb4f4" stroke-width="2.1"/>
<rect x="481.0" y="240.2" width="203.39999999999998" height="196.10000000000002" fill="none" stroke="#4a4a4a" stroke-width="1.2"/>
<path d="M481.0 255.50h2.6M684.4 255.50h-2.6M481.0 315.50h2.6M684.4 315.50h-2.6M481.0 375.50h2.6M684.4 375.50h-2.6M481.0 435.50h2.6M684.4 435.50h-2.6M481.0 285.50h2.6M684.4 285.50h-2.6M481.0 345.50h2.6M684.4 345.50h-2.6M481.0 405.50h2.6M684.4 405.50h-2.6" stroke="#4a4a4a" stroke-width="1" fill="none"/>
<text transform="translate(477.60,259.80) scale(1.07,1)" font-size="12.5" text-anchor="end">200</text>
<text transform="translate(477.60,319.80) scale(1.07,1)" font-size="12.5" text-anchor="end">100</text>
<text transform="translate(477.60,379.80) scale(1.07,1)" font-size="12.5" text-anchor="end">0</text>
<text transform="translate(477.60,439.80) scale(1.07,1)" font-size="12.5" text-anchor="end">-100</text>
<text transform="translate(445.50,338.00) rotate(-90) scale(1.07,1)" font-size="12.2" text-anchor="middle">Intensity change of foci (%)</text>
<text x="536.00" y="254.00" text-anchor="middle" font-size="8.5" fill="#333"><tspan font-style="italic">p</tspan>=2×10<tspan font-size="6" dy="-3.4">-4</tspan></text>
<text x="550.40" y="298.90" text-anchor="middle" font-size="8.5" fill="#333"><tspan font-style="italic">p</tspan>=1×10<tspan font-size="6" dy="-3.4">-4</tspan></text>
<text x="565.20" y="344.00" text-anchor="middle" font-size="8.5" fill="#333"><tspan font-style="italic">p</tspan>=0.02</text>
<text x="629.00" y="254.00" text-anchor="middle" font-size="8.5" fill="#333"><tspan font-style="italic">p</tspan>=8×10<tspan font-size="6" dy="-3.4">-11</tspan></text>
<text x="614.80" y="298.90" text-anchor="middle" font-size="8.5" fill="#333"><tspan font-style="italic">p</tspan>=1×10<tspan font-size="6" dy="-3.4">-6</tspan></text>
<text x="600.00" y="344.00" text-anchor="middle" font-size="8.5" fill="#333"><tspan font-style="italic">p</tspan>=0.01</text>
<line x1="481.0" y1="563.00" x2="684.4" y2="563.00" stroke="#b8b8b8" stroke-width="0.9" stroke-dasharray="2.4,2.4"/>
<line x1="495.6" y1="489.4" x2="577.0" y2="489.4" stroke="#555" stroke-width="0.9"/>
<line x1="524.6" y1="504.1" x2="577.0" y2="504.1" stroke="#555" stroke-width="0.9"/>
<line x1="553.6" y1="519" x2="577.0" y2="519" stroke="#999" stroke-width="1.2"/>
<line x1="588.3" y1="489.4" x2="670.0" y2="489.4" stroke="#555" stroke-width="0.9"/>
<line x1="588.3" y1="504.1" x2="640.6" y2="504.1" stroke="#555" stroke-width="0.9"/>
<line x1="588.3" y1="519" x2="611.5" y2="519" stroke="#999" stroke-width="1.2"/>
<path d="M495.6 499.6V510.4M492.00 499.6h7.2M492.00 510.4h7.2" stroke="#f8595e" stroke-width="1" fill="none" opacity="0.85"/>
<line x1="488.30" y1="505" x2="502.90" y2="505" stroke="#f8595e" stroke-width="2.1"/>
<path d="M524.6 516.6V525M521.00 516.6h7.2M521.00 525h7.2" stroke="#f8595e" stroke-width="1" fill="none" opacity="0.85"/>
<line x1="517.30" y1="520.6" x2="531.90" y2="520.6" stroke="#f8595e" stroke-width="2.1"/>
<path d="M553.6 531.4V542M550.00 531.4h7.2M550.00 542h7.2" stroke="#f8595e" stroke-width="1" fill="none" opacity="0.85"/>
<line x1="546.30" y1="536.6" x2="560.90" y2="536.6" stroke="#f8595e" stroke-width="2.1"/>
<path d="M582.5 554.4V564.9M578.90 554.4h7.2M578.90 564.9h7.2" stroke="#a6e05a" stroke-width="1" fill="none" opacity="0.85"/>
<line x1="575.20" y1="559.1" x2="589.80" y2="559.1" stroke="#a6e05a" stroke-width="2.1"/>
<path d="M611.5 565.3V576.9M607.90 565.3h7.2M607.90 576.9h7.2" stroke="#4cb4f4" stroke-width="1" fill="none" opacity="0.85"/>
<line x1="604.20" y1="571.1" x2="618.80" y2="571.1" stroke="#4cb4f4" stroke-width="2.1"/>
<path d="M640.6 575.7V586.6M637.00 575.7h7.2M637.00 586.6h7.2" stroke="#4cb4f4" stroke-width="1" fill="none" opacity="0.85"/>
<line x1="633.30" y1="581.5" x2="647.90" y2="581.5" stroke="#4cb4f4" stroke-width="2.1"/>
<path d="M670.0 621.6V635M666.40 621.6h7.2M666.40 635h7.2" stroke="#4cb4f4" stroke-width="1" fill="none" opacity="0.85"/>
<line x1="662.70" y1="628.4" x2="677.30" y2="628.4" stroke="#4cb4f4" stroke-width="2.1"/>
<rect x="481.0" y="464.6" width="203.39999999999998" height="196.79999999999995" fill="none" stroke="#4a4a4a" stroke-width="1.2"/>
<path d="M481.0 464.40h2.6M684.4 464.40h-2.6M481.0 513.70h2.6M684.4 513.70h-2.6M481.0 563.00h2.6M684.4 563.00h-2.6M481.0 612.30h2.6M684.4 612.30h-2.6M481.0 661.60h2.6M684.4 661.60h-2.6M481.0 489.05h2.6M684.4 489.05h-2.6M481.0 538.35h2.6M684.4 538.35h-2.6M481.0 587.65h2.6M684.4 587.65h-2.6M481.0 636.95h2.6M684.4 636.95h-2.6" stroke="#4a4a4a" stroke-width="1" fill="none"/>
<text transform="translate(477.60,468.70) scale(1.07,1)" font-size="12.5" text-anchor="end">20</text>
<text transform="translate(477.60,518.00) scale(1.07,1)" font-size="12.5" text-anchor="end">10</text>
<text transform="translate(477.60,567.30) scale(1.07,1)" font-size="12.5" text-anchor="end">0</text>
<text transform="translate(477.60,616.60) scale(1.07,1)" font-size="12.5" text-anchor="end">-10</text>
<text transform="translate(477.60,665.90) scale(1.07,1)" font-size="12.5" text-anchor="end">-20</text>
<text transform="translate(445.50,563.00) rotate(-90) scale(1.07,1)" font-size="12.2" text-anchor="middle">Change of nuclear volume (%)</text>
<text x="536.00" y="487.90" text-anchor="middle" font-size="8.5" fill="#333"><tspan font-style="italic">p</tspan>=3×10<tspan font-size="6" dy="-3.4">-11</tspan></text>
<text x="550.40" y="502.50" text-anchor="middle" font-size="8.5" fill="#333"><tspan font-style="italic">p</tspan>=4×10<tspan font-size="6" dy="-3.4">-8</tspan></text>
<text x="564.80" y="517.40" text-anchor="middle" font-size="8.5" fill="#333"><tspan font-style="italic">p</tspan>=2×10<tspan font-size="6" dy="-3.4">-3</tspan></text>
<text x="629.00" y="487.50" text-anchor="middle" font-size="8.5" fill="#333"><tspan font-style="italic">p</tspan>=5×10<tspan font-size="6" dy="-3.4">-12</tspan></text>
<text x="614.80" y="502.50" text-anchor="middle" font-size="8.5" fill="#333"><tspan font-style="italic">p</tspan>=3×10<tspan font-size="6" dy="-3.4">-3</tspan></text>
<text x="600.20" y="517.40" text-anchor="middle" font-size="8.5" fill="#333"><tspan font-style="italic">p</tspan>=0.13</text>
<text transform="translate(507.40,671.50) rotate(-60) scale(1.07,1)" font-size="12.2" text-anchor="end">30% H<tspan font-size="8.5" dy="1.8">2</tspan><tspan dy="-1.8">O</tspan></text>
<text transform="translate(536.40,671.50) rotate(-60) scale(1.07,1)" font-size="12.2" text-anchor="end">20% H<tspan font-size="8.5" dy="1.8">2</tspan><tspan dy="-1.8">O</tspan></text>
<text transform="translate(565.40,671.50) rotate(-60) scale(1.07,1)" font-size="12.2" text-anchor="end">10% H<tspan font-size="8.5" dy="1.8">2</tspan><tspan dy="-1.8">O</tspan></text>
<text transform="translate(594.30,671.50) rotate(-60) scale(1.07,1)" font-size="12.2" text-anchor="end">Ctrl</text>
<text transform="translate(623.30,671.50) rotate(-60) scale(1.07,1)" font-size="12.2" text-anchor="end">2.5% PEG</text>
<text transform="translate(652.40,671.50) rotate(-60) scale(1.07,1)" font-size="12.2" text-anchor="end">5% PEG</text>
<text transform="translate(681.80,671.50) rotate(-60) scale(1.07,1)" font-size="12.2" text-anchor="end">10% PEG</text>
<defs><filter id="nuc1" x="-20%" y="-20%" width="140%" height="140%" color-interpolation-filters="sRGB">
<feTurbulence type="fractalNoise" baseFrequency="0.3" numOctaves="3" seed="7" result="n"/>
<feColorMatrix in="n" type="matrix" values="1.0 0 0 0 0.0  -0.9 0.4 0 0 0.75  0 0 0 0 0.0  0 0 0 0 1" result="nc"/>
<feTurbulence type="fractalNoise" baseFrequency="1.1" numOctaves="1" seed="3" result="fn"/>
<feColorMatrix in="fn" type="matrix" values="0.8 0 0 0 0.1  -0.6 0.5 0 0 0.55  0 0 0 0 0.5  0 0 0 0 1" result="fnc"/>
<feComposite in="SourceGraphic" in2="nc" operator="arithmetic" k1="0" k2="1" k3="0.26" k4="-0.13" result="mix0"/>
<feComposite in="mix0" in2="fnc" operator="arithmetic" k1="0" k2="1" k3="0.22" k4="-0.11" result="mix"/>
<feGaussianBlur in="SourceGraphic" stdDeviation="2.0" result="soft"/>
<feComposite in="mix" in2="soft" operator="in" result="m2"/>
<feGaussianBlur in="m2" stdDeviation="0.55"/>
</filter>
<filter id="glow" x="-100%" y="-100%" width="300%" height="300%" color-interpolation-filters="sRGB">
<feGaussianBlur stdDeviation="0.7"/>
</filter></defs>
<rect x="0" y="193.2" width="82.6" height="82.6" fill="#000"/>
<rect x="154" y="193.2" width="82.6" height="82.6" fill="#000"/>
<rect x="308.2" y="193.2" width="82.6" height="82.6" fill="#000"/>
<rect x="0" y="285.4" width="82.6" height="82.6" fill="#000"/>
<rect x="154" y="285.4" width="82.6" height="82.6" fill="#000"/>
<rect x="308.2" y="285.4" width="82.6" height="82.6" fill="#000"/>
<radialGradient id="rg0" cx="0.5" cy="0.5" r="0.56"><stop offset="0.6" stop-color="#76600f"/><stop offset="0.9" stop-color="#8c300c"/><stop offset="1" stop-color="#300a02"/></radialGradient>
<path d="M8.70 233.40C9.48 230.50 10.75 227.58 12.40 224.70C14.05 221.82 16.12 218.78 18.60 216.10C21.08 213.42 24.20 210.68 27.30 208.60C30.40 206.52 33.90 204.83 37.20 203.60C40.50 202.37 44.00 201.65 47.10 201.20C50.20 200.75 52.90 200.50 55.80 200.90C58.70 201.30 62.02 202.10 64.50 203.60C66.98 205.10 69.15 207.42 70.70 209.90C72.25 212.38 73.38 215.62 73.80 218.50C74.22 221.38 73.92 224.30 73.20 227.20C72.48 230.10 71.37 233.00 69.50 235.90C67.63 238.80 64.90 241.70 62.00 244.60C59.10 247.50 55.62 250.40 52.10 253.30C48.58 256.20 44.42 259.93 40.90 262.00C37.38 264.07 34.30 265.30 31.00 265.70C27.70 266.10 24.00 265.43 21.10 264.40C18.20 263.37 15.57 261.77 13.60 259.50C11.63 257.23 10.28 253.70 9.30 250.80C8.32 247.90 7.80 245.00 7.70 242.10C7.60 239.20 7.92 236.30 8.70 233.40Z" fill="url(#rg0)" filter="url(#nuc1)"/>
<radialGradient id="rg1" cx="0.5" cy="0.5" r="0.56"><stop offset="0.6" stop-color="#745e0f"/><stop offset="0.9" stop-color="#8c300c"/><stop offset="1" stop-color="#300a02"/></radialGradient>
<path d="M163.60 241.40C163.92 238.83 163.95 235.40 164.80 232.40C165.65 229.40 166.77 226.40 168.70 223.40C170.63 220.40 173.40 216.97 176.40 214.40C179.40 211.83 183.07 209.72 186.70 208.00C190.33 206.28 194.57 204.97 198.20 204.10C201.83 203.23 205.07 202.58 208.50 202.80C211.93 203.02 216.02 203.90 218.80 205.40C221.58 206.90 223.70 209.45 225.20 211.80C226.70 214.15 227.58 216.72 227.80 219.50C228.02 222.28 227.35 225.72 226.50 228.50C225.65 231.28 224.42 233.63 222.70 236.20C220.98 238.77 218.57 241.32 216.20 243.90C213.83 246.48 211.07 249.33 208.50 251.70C205.93 254.07 203.80 256.18 200.80 258.10C197.80 260.02 193.92 262.13 190.50 263.20C187.08 264.27 183.50 264.72 180.30 264.50C177.10 264.28 173.88 263.62 171.30 261.90C168.72 260.18 166.20 256.55 164.80 254.20C163.40 251.85 163.10 249.93 162.90 247.80C162.70 245.67 163.28 243.97 163.60 241.40Z" fill="url(#rg1)" filter="url(#nuc1)"/>
<radialGradient id="rg2" cx="0.5" cy="0.5" r="0.56"><stop offset="0.6" stop-color="#70580f"/><stop offset="0.9" stop-color="#8a2e0c"/><stop offset="1" stop-color="#300a02"/></radialGradient>
<path d="M314.60 241.40C314.38 238.40 314.55 235.40 315.30 232.40C316.05 229.40 317.18 226.18 319.10 223.40C321.02 220.62 323.80 217.83 326.80 215.70C329.80 213.57 333.45 212.00 337.10 210.60C340.75 209.20 344.85 207.95 348.70 207.30C352.55 206.65 356.35 206.37 360.20 206.70C364.05 207.03 368.37 207.80 371.80 209.30C375.23 210.80 378.55 213.35 380.80 215.70C383.05 218.05 384.55 220.62 385.30 223.40C386.05 226.18 385.83 229.40 385.30 232.40C384.77 235.40 383.92 238.62 382.10 241.40C380.28 244.18 377.40 246.75 374.40 249.10C371.40 251.45 367.53 253.57 364.10 255.50C360.67 257.43 357.43 259.30 353.80 260.70C350.17 262.10 346.15 263.48 342.30 263.90C338.45 264.32 334.13 264.17 330.70 263.20C327.27 262.23 324.05 260.23 321.70 258.10C319.35 255.97 317.78 253.18 316.60 250.40C315.42 247.62 314.82 244.40 314.60 241.40Z" fill="url(#rg2)" filter="url(#nuc1)"/>
<radialGradient id="rg3" cx="0.5" cy="0.5" r="0.56"><stop offset="0.6" stop-color="#6e520c"/><stop offset="0.9" stop-color="#822a0a"/><stop offset="1" stop-color="#300a02"/></radialGradient>
<path d="M15.40 305.70C18.30 303.78 21.85 301.67 25.70 300.60C29.55 299.53 33.58 298.88 38.50 299.30C43.42 299.72 50.05 301.18 55.20 303.10C60.35 305.02 65.75 308.23 69.40 310.80C73.05 313.37 75.60 315.93 77.10 318.50C78.60 321.07 79.27 323.83 78.40 326.20C77.53 328.57 75.97 330.98 71.90 332.70C67.83 334.42 59.57 335.00 54.00 336.50C48.43 338.00 43.65 339.33 38.50 341.70C33.35 344.07 27.80 349.85 23.10 350.70C18.40 351.55 13.30 349.17 10.30 346.80C7.30 344.43 5.97 340.57 5.10 336.50C4.23 332.43 4.57 326.47 5.10 322.40C5.63 318.33 6.58 314.88 8.30 312.10C10.02 309.32 12.50 307.62 15.40 305.70Z" fill="url(#rg3)" filter="url(#nuc1)"/>
<radialGradient id="rg4" cx="0.5" cy="0.5" r="0.56"><stop offset="0.6" stop-color="#62500e"/><stop offset="0.9" stop-color="#7e2a0c"/><stop offset="1" stop-color="#300a02"/></radialGradient>
<path d="M163.20 316.90C163.40 314.85 164.13 312.97 165.50 311.60C166.87 310.23 169.25 309.57 171.40 308.70C173.55 307.83 176.07 307.38 178.40 306.40C180.73 305.42 182.88 303.78 185.40 302.80C187.92 301.82 190.38 300.78 193.50 300.50C196.62 300.22 200.78 300.32 204.10 301.10C207.42 301.88 210.68 303.35 213.40 305.20C216.12 307.05 218.27 309.67 220.40 312.20C222.53 314.73 224.93 317.68 226.20 320.40C227.47 323.12 228.18 325.98 228.00 328.50C227.82 331.02 226.75 333.55 225.10 335.50C223.45 337.45 220.83 338.73 218.10 340.20C215.37 341.67 211.63 343.13 208.70 344.30C205.77 345.47 203.03 346.13 200.50 347.20C197.97 348.27 195.83 349.43 193.50 350.70C191.17 351.97 188.63 354.22 186.50 354.80C184.37 355.38 182.45 355.27 180.70 354.20C178.95 353.13 177.37 350.73 176.00 348.40C174.63 346.07 173.87 343.12 172.50 340.20C171.13 337.28 169.17 333.62 167.80 330.90C166.43 328.18 165.07 326.23 164.30 323.90C163.53 321.57 163.00 318.95 163.20 316.90Z" fill="url(#rg4)" filter="url(#nuc1)"/>
<radialGradient id="rg5" cx="0.5" cy="0.5" r="0.56"><stop offset="0.6" stop-color="#704a0c"/><stop offset="0.9" stop-color="#862a0a"/><stop offset="1" stop-color="#300a02"/></radialGradient>
<path d="M315.30 328.20C315.18 324.57 316.73 318.02 317.80 314.70C318.87 311.38 319.55 310.45 321.70 308.30C323.85 306.15 327.07 303.52 330.70 301.80C334.33 300.08 338.78 298.63 343.50 298.00C348.22 297.37 354.28 296.93 359.00 298.00C363.72 299.07 368.48 302.05 371.80 304.40C375.12 306.75 377.18 309.53 378.90 312.10C380.62 314.67 381.47 317.23 382.10 319.80C382.73 322.37 382.92 325.13 382.70 327.50C382.48 329.87 381.77 331.85 380.80 334.00C379.83 336.15 378.83 337.83 376.90 340.40C374.97 342.97 372.18 346.83 369.20 349.40C366.22 351.97 362.63 354.30 359.00 355.80C355.37 357.30 351.27 358.72 347.40 358.40C343.53 358.08 339.43 356.15 335.80 353.90C332.17 351.65 328.48 347.80 325.60 344.90C322.72 342.00 320.22 339.28 318.50 336.50C316.78 333.72 315.42 331.83 315.30 328.20Z" fill="url(#rg5)" filter="url(#nuc1)"/>
<filter id="halo" x="-200%" y="-200%" width="500%" height="500%"><feGaussianBlur stdDeviation="2.2"/></filter>
<g fill="#30c020" opacity="0.55" filter="url(#halo)"><circle cx="43.4" cy="211.1" r="2.08"/><circle cx="53.1" cy="211.1" r="2.24"/><circle cx="26.7" cy="220.4" r="2.56"/><circle cx="32" cy="223.3" r="2.56"/><circle cx="51.9" cy="226.2" r="2.08"/><circle cx="61.7" cy="227.2" r="2.40"/><circle cx="40.9" cy="230.3" r="1.76"/><circle cx="31" cy="234" r="2.08"/><circle cx="26" cy="235.7" r="1.76"/><circle cx="30" cy="238.1" r="2.72"/><circle cx="50.2" cy="241.1" r="2.56"/><circle cx="12.4" cy="245.8" r="2.40"/><circle cx="12.4" cy="251.4" r="1.92"/><circle cx="21.1" cy="253.9" r="1.92"/><circle cx="48.1" cy="253.5" r="2.40"/><circle cx="26" cy="258.9" r="1.76"/></g>
<g fill="#30c020" opacity="0.55" filter="url(#halo)"><circle cx="199.5" cy="213.1" r="2.88"/><circle cx="209.6" cy="214" r="2.72"/><circle cx="215.6" cy="209.9" r="2.72"/><circle cx="218.2" cy="219.5" r="3.04"/><circle cx="181.8" cy="221.5" r="2.72"/><circle cx="188" cy="224.7" r="3.20"/><circle cx="192.5" cy="232.8" r="3.20"/><circle cx="206" cy="231.1" r="2.56"/><circle cx="213.7" cy="232.1" r="3.52"/><circle cx="184.1" cy="235" r="2.40"/><circle cx="184.1" cy="238.6" r="3.52"/><circle cx="167.7" cy="240.7" r="2.40"/><circle cx="167.7" cy="244" r="3.04"/><circle cx="202.7" cy="244" r="3.52"/><circle cx="214.7" cy="241.4" r="2.08"/><circle cx="185.4" cy="248.8" r="2.56"/><circle cx="174.9" cy="250.1" r="2.24"/><circle cx="182.2" cy="257.1" r="2.40"/><circle cx="179.6" cy="258.7" r="2.24"/><circle cx="201" cy="255.3" r="2.56"/></g>
<g fill="#30c020" opacity="0.55" filter="url(#halo)"><circle cx="341.6" cy="217.6" r="2.08"/><circle cx="346.8" cy="221.9" r="2.72"/><circle cx="359.6" cy="215" r="1.60"/><circle cx="369.6" cy="219.9" r="1.92"/><circle cx="377.6" cy="231.4" r="2.24"/><circle cx="338.4" cy="231.8" r="2.08"/><circle cx="337.1" cy="236.2" r="3.04"/><circle cx="349.7" cy="232.4" r="2.24"/><circle cx="360.5" cy="233.4" r="2.40"/><circle cx="368.8" cy="238.4" r="3.20"/><circle cx="317.8" cy="237.9" r="1.92"/><circle cx="323" cy="246.5" r="1.92"/><circle cx="364.4" cy="249.1" r="2.08"/><circle cx="326.6" cy="257.1" r="2.08"/><circle cx="349.3" cy="256.5" r="1.92"/></g>
<g fill="#30c020" opacity="0.55" filter="url(#halo)"><circle cx="36" cy="302.5" r="2.56"/><circle cx="39.6" cy="310.2" r="3.20"/><circle cx="19.3" cy="314.7" r="3.68"/><circle cx="22.5" cy="319.2" r="2.72"/><circle cx="39.2" cy="322.8" r="3.04"/><circle cx="47.8" cy="319.2" r="2.08"/><circle cx="51.8" cy="322.4" r="3.20"/><circle cx="58.5" cy="311.2" r="2.56"/><circle cx="63.6" cy="314" r="2.24"/><circle cx="58.7" cy="320.1" r="2.88"/><circle cx="61.4" cy="324.3" r="4.00"/><circle cx="70.4" cy="322.8" r="3.84"/><circle cx="29.8" cy="329.5" r="3.68"/><circle cx="31.9" cy="332" r="3.52"/><circle cx="31.2" cy="337.4" r="3.52"/><circle cx="10.3" cy="338.1" r="3.20"/><circle cx="51.4" cy="332.7" r="2.08"/><circle cx="57.2" cy="332.4" r="3.04"/><circle cx="18" cy="343.8" r="2.72"/></g>
<g fill="#30c020" opacity="0.55" filter="url(#halo)"></g>
<g fill="#30c020" opacity="0.55" filter="url(#halo)"><circle cx="336.9" cy="307.6" r="2.56"/><circle cx="349.3" cy="307" r="1.92"/><circle cx="357" cy="307.6" r="2.08"/><circle cx="331.3" cy="314" r="1.76"/><circle cx="334.3" cy="320.9" r="2.88"/><circle cx="351.6" cy="319.8" r="2.08"/><circle cx="371.5" cy="318.8" r="2.88"/><circle cx="368.6" cy="325.2" r="2.56"/><circle cx="339.9" cy="324.7" r="1.60"/><circle cx="327.5" cy="331.6" r="1.60"/><circle cx="351.2" cy="335.5" r="1.60"/><circle cx="357.7" cy="338.1" r="2.88"/><circle cx="343.5" cy="344.5" r="2.40"/><circle cx="367.9" cy="342.3" r="1.60"/></g>
<g fill="#44ff30" filter="url(#glow)"><circle cx="43.4" cy="211.1" r="1.23"/><circle cx="53.1" cy="211.1" r="1.33"/><circle cx="26.7" cy="220.4" r="1.52"/><circle cx="32" cy="223.3" r="1.52"/><circle cx="51.9" cy="226.2" r="1.23"/><circle cx="61.7" cy="227.2" r="1.42"/><circle cx="40.9" cy="230.3" r="1.04"/><circle cx="31" cy="234" r="1.23"/><circle cx="26" cy="235.7" r="1.04"/><circle cx="30" cy="238.1" r="1.61"/><circle cx="50.2" cy="241.1" r="1.52"/><circle cx="12.4" cy="245.8" r="1.42"/><circle cx="12.4" cy="251.4" r="1.14"/><circle cx="21.1" cy="253.9" r="1.14"/><circle cx="48.1" cy="253.5" r="1.42"/><circle cx="26" cy="258.9" r="1.04"/></g>
<g fill="#7cff5c" opacity="0.9" filter="url(#glow)"><circle cx="43.4" cy="211.1" r="0.72"/><circle cx="53.1" cy="211.1" r="0.77"/><circle cx="26.7" cy="220.4" r="0.88"/><circle cx="32" cy="223.3" r="0.88"/><circle cx="51.9" cy="226.2" r="0.72"/><circle cx="61.7" cy="227.2" r="0.83"/><circle cx="40.9" cy="230.3" r="0.61"/><circle cx="31" cy="234" r="0.72"/><circle cx="26" cy="235.7" r="0.61"/><circle cx="30" cy="238.1" r="0.94"/><circle cx="50.2" cy="241.1" r="0.88"/><circle cx="12.4" cy="245.8" r="0.83"/><circle cx="12.4" cy="251.4" r="0.66"/><circle cx="21.1" cy="253.9" r="0.66"/><circle cx="48.1" cy="253.5" r="0.83"/><circle cx="26" cy="258.9" r="0.61"/></g>
<g fill="#44ff30" filter="url(#glow)"><circle cx="199.5" cy="213.1" r="1.71"/><circle cx="209.6" cy="214" r="1.61"/><circle cx="215.6" cy="209.9" r="1.61"/><circle cx="218.2" cy="219.5" r="1.80"/><circle cx="181.8" cy="221.5" r="1.61"/><circle cx="188" cy="224.7" r="1.90"/><circle cx="192.5" cy="232.8" r="1.90"/><circle cx="206" cy="231.1" r="1.52"/><circle cx="213.7" cy="232.1" r="2.09"/><circle cx="184.1" cy="235" r="1.42"/><circle cx="184.1" cy="238.6" r="2.09"/><circle cx="167.7" cy="240.7" r="1.42"/><circle cx="167.7" cy="244" r="1.80"/><circle cx="202.7" cy="244" r="2.09"/><circle cx="214.7" cy="241.4" r="1.23"/><circle cx="185.4" cy="248.8" r="1.52"/><circle cx="174.9" cy="250.1" r="1.33"/><circle cx="182.2" cy="257.1" r="1.42"/><circle cx="179.6" cy="258.7" r="1.33"/><circle cx="201" cy="255.3" r="1.52"/></g>
<g fill="#7cff5c" opacity="0.9" filter="url(#glow)"><circle cx="199.5" cy="213.1" r="0.99"/><circle cx="209.6" cy="214" r="0.94"/><circle cx="215.6" cy="209.9" r="0.94"/><circle cx="218.2" cy="219.5" r="1.04"/><circle cx="181.8" cy="221.5" r="0.94"/><circle cx="188" cy="224.7" r="1.10"/><circle cx="192.5" cy="232.8" r="1.10"/><circle cx="206" cy="231.1" r="0.88"/><circle cx="213.7" cy="232.1" r="1.21"/><circle cx="184.1" cy="235" r="0.83"/><circle cx="184.1" cy="238.6" r="1.21"/><circle cx="167.7" cy="240.7" r="0.83"/><circle cx="167.7" cy="244" r="1.04"/><circle cx="202.7" cy="244" r="1.21"/><circle cx="214.7" cy="241.4" r="0.72"/><circle cx="185.4" cy="248.8" r="0.88"/><circle cx="174.9" cy="250.1" r="0.77"/><circle cx="182.2" cy="257.1" r="0.83"/><circle cx="179.6" cy="258.7" r="0.77"/><circle cx="201" cy="255.3" r="0.88"/></g>
<g fill="#44ff30" filter="url(#glow)"><circle cx="341.6" cy="217.6" r="1.23"/><circle cx="346.8" cy="221.9" r="1.61"/><circle cx="359.6" cy="215" r="0.95"/><circle cx="369.6" cy="219.9" r="1.14"/><circle cx="377.6" cy="231.4" r="1.33"/><circle cx="338.4" cy="231.8" r="1.23"/><circle cx="337.1" cy="236.2" r="1.80"/><circle cx="349.7" cy="232.4" r="1.33"/><circle cx="360.5" cy="233.4" r="1.42"/><circle cx="368.8" cy="238.4" r="1.90"/><circle cx="317.8" cy="237.9" r="1.14"/><circle cx="323" cy="246.5" r="1.14"/><circle cx="364.4" cy="249.1" r="1.23"/><circle cx="326.6" cy="257.1" r="1.23"/><circle cx="349.3" cy="256.5" r="1.14"/></g>
<g fill="#7cff5c" opacity="0.9" filter="url(#glow)"><circle cx="341.6" cy="217.6" r="0.72"/><circle cx="346.8" cy="221.9" r="0.94"/><circle cx="359.6" cy="215" r="0.55"/><circle cx="369.6" cy="219.9" r="0.66"/><circle cx="377.6" cy="231.4" r="0.77"/><circle cx="338.4" cy="231.8" r="0.72"/><circle cx="337.1" cy="236.2" r="1.04"/><circle cx="349.7" cy="232.4" r="0.77"/><circle cx="360.5" cy="233.4" r="0.83"/><circle cx="368.8" cy="238.4" r="1.10"/><circle cx="317.8" cy="237.9" r="0.66"/><circle cx="323" cy="246.5" r="0.66"/><circle cx="364.4" cy="249.1" r="0.72"/><circle cx="326.6" cy="257.1" r="0.72"/><circle cx="349.3" cy="256.5" r="0.66"/></g>
<g fill="#44ff30" filter="url(#glow)"><circle cx="36" cy="302.5" r="1.52"/><circle cx="39.6" cy="310.2" r="1.90"/><circle cx="19.3" cy="314.7" r="2.18"/><circle cx="22.5" cy="319.2" r="1.61"/><circle cx="39.2" cy="322.8" r="1.80"/><circle cx="47.8" cy="319.2" r="1.23"/><circle cx="51.8" cy="322.4" r="1.90"/><circle cx="58.5" cy="311.2" r="1.52"/><circle cx="63.6" cy="314" r="1.33"/><circle cx="58.7" cy="320.1" r="1.71"/><circle cx="61.4" cy="324.3" r="2.38"/><circle cx="70.4" cy="322.8" r="2.28"/><circle cx="29.8" cy="329.5" r="2.18"/><circle cx="31.9" cy="332" r="2.09"/><circle cx="31.2" cy="337.4" r="2.09"/><circle cx="10.3" cy="338.1" r="1.90"/><circle cx="51.4" cy="332.7" r="1.23"/><circle cx="57.2" cy="332.4" r="1.80"/><circle cx="18" cy="343.8" r="1.61"/></g>
<g fill="#7cff5c" opacity="0.9" filter="url(#glow)"><circle cx="36" cy="302.5" r="0.88"/><circle cx="39.6" cy="310.2" r="1.10"/><circle cx="19.3" cy="314.7" r="1.26"/><circle cx="22.5" cy="319.2" r="0.94"/><circle cx="39.2" cy="322.8" r="1.04"/><circle cx="47.8" cy="319.2" r="0.72"/><circle cx="51.8" cy="322.4" r="1.10"/><circle cx="58.5" cy="311.2" r="0.88"/><circle cx="63.6" cy="314" r="0.77"/><circle cx="58.7" cy="320.1" r="0.99"/><circle cx="61.4" cy="324.3" r="1.38"/><circle cx="70.4" cy="322.8" r="1.32"/><circle cx="29.8" cy="329.5" r="1.26"/><circle cx="31.9" cy="332" r="1.21"/><circle cx="31.2" cy="337.4" r="1.21"/><circle cx="10.3" cy="338.1" r="1.10"/><circle cx="51.4" cy="332.7" r="0.72"/><circle cx="57.2" cy="332.4" r="1.04"/><circle cx="18" cy="343.8" r="0.94"/></g>
<g fill="#44ff30" filter="url(#glow)"></g>
<g fill="#7cff5c" opacity="0.9" filter="url(#glow)"></g>
<g fill="#44ff30" filter="url(#glow)"><circle cx="336.9" cy="307.6" r="1.52"/><circle cx="349.3" cy="307" r="1.14"/><circle cx="357" cy="307.6" r="1.23"/><circle cx="331.3" cy="314" r="1.04"/><circle cx="334.3" cy="320.9" r="1.71"/><circle cx="351.6" cy="319.8" r="1.23"/><circle cx="371.5" cy="318.8" r="1.71"/><circle cx="368.6" cy="325.2" r="1.52"/><circle cx="339.9" cy="324.7" r="0.95"/><circle cx="327.5" cy="331.6" r="0.95"/><circle cx="351.2" cy="335.5" r="0.95"/><circle cx="357.7" cy="338.1" r="1.71"/><circle cx="343.5" cy="344.5" r="1.42"/><circle cx="367.9" cy="342.3" r="0.95"/></g>
<g fill="#7cff5c" opacity="0.9" filter="url(#glow)"><circle cx="336.9" cy="307.6" r="0.88"/><circle cx="349.3" cy="307" r="0.66"/><circle cx="357" cy="307.6" r="0.72"/><circle cx="331.3" cy="314" r="0.61"/><circle cx="334.3" cy="320.9" r="0.99"/><circle cx="351.6" cy="319.8" r="0.72"/><circle cx="371.5" cy="318.8" r="0.99"/><circle cx="368.6" cy="325.2" r="0.88"/><circle cx="339.9" cy="324.7" r="0.55"/><circle cx="327.5" cy="331.6" r="0.55"/><circle cx="351.2" cy="335.5" r="0.55"/><circle cx="357.7" cy="338.1" r="0.99"/><circle cx="343.5" cy="344.5" r="0.83"/><circle cx="367.9" cy="342.3" r="0.55"/></g>
<rect x="58" y="269" width="20" height="3" fill="#fff"/>
<rect x="58" y="361" width="20" height="3" fill="#fff"/>
<path d="M87.7 243.9h43.5v-3.8l18 7.7l-18 7.6v-3.8h-43.5z" fill="#808080"/>
<path d="M241.4 244h43.5v-3.8l18 7.7l-18 7.6v-3.8h-43.5z" fill="#808080"/>
<path d="M87.7 335.9h43.5v-3.8l18 7.7l-18 7.6v-3.8h-43.5z" fill="#808080"/>
<path d="M241.4 336h43.5v-3.8l18 7.7l-18 7.6v-3.8h-43.5z" fill="#808080"/>
<text transform="translate(1.40,182.80) scale(1.0,1)" font-size="14" font-weight="bold">b</text>
<text transform="translate(73.20,182.90) scale(1.085,1)" font-size="12.3">Telomere labelled with dCas9-SunTag-FP</text>
<text transform="translate(87.00,231.60) scale(1.07,1)" font-size="12.3">+30% H<tspan font-size="8.5" dy="2.6">2</tspan><tspan dy="-2.6">O</tspan></text>
<text transform="translate(247.50,231.60) scale(1.07,1)" font-size="12.3">Reverse</text>
<text transform="translate(86.40,324.00) scale(1.07,1)" font-size="12.3">+10% PEG</text>
<text transform="translate(247.50,324.00) scale(1.07,1)" font-size="12.3">Reverse</text>
<path d="M30.70 85.80C33.91 82.50 41.49 72.09 47.00 68.40C52.51 64.71 57.89 62.12 67.40 61.20C76.91 60.29 101.51 60.60 110.40 62.30C119.30 63.99 123.34 69.14 126.70 72.50C130.06 75.86 131.80 81.62 132.80 84.70C133.81 87.78 133.75 90.54 133.40 93.00C133.06 95.46 132.12 99.21 130.50 101.10C128.88 102.99 129.92 104.65 122.60 105.60C115.28 106.55 92.59 107.07 81.70 107.40C70.81 107.73 55.23 106.90 50.00 107.80C44.77 108.70 47.40 111.03 46.80 113.40C46.20 115.77 46.80 120.54 46.00 123.60C45.20 126.66 43.80 131.46 41.50 133.80C39.20 136.14 33.87 139.05 30.70 139.20C27.54 139.35 22.54 137.46 20.40 134.80C18.25 132.15 16.97 125.33 16.40 121.50C15.83 117.67 16.00 112.97 16.60 109.30C17.20 105.62 19.05 99.83 20.40 97.00C21.75 94.17 24.05 92.08 25.60 90.40C27.15 88.72 27.49 89.10 30.70 85.80Z" fill="#fce4d8"/>
<path d="M9.7 86.6V92.4M15.8 86.6V92.4M21.5 86.6V92.4M27.1 86.6V92.4M32.2 86.6V92.4M135.3 86.6V92.4M140.5 86.6V92.4M145.7 86.6V92.4M150.9 86.6V92.4M155.6 86.6V92.4M44.2 96.4V101.9M48.8 96.4V101.9M53.4 96.4V101.9M58.1 96.4V101.9M62.7 96.4V101.9M67.3 96.4V101.9M71.9 96.4V101.9M76.5 96.4V101.9M81.2 96.4V101.9M85.8 96.4V101.9M90.4 96.4V101.9M95.0 96.4V101.9M99.6 96.4V101.9M104.3 96.4V101.9M108.9 96.4V101.9M113.5 96.4V101.9M28.2 105.4H34.1M28.2 110.9H34.1M28.2 116.4H34.1" stroke="#c9c9c9" stroke-width="1.1" fill="none"/>
<path d="M6 86H31.5C36 86 36.5 76.3 42.5 76.3H120C126 76.3 127 86 132 86H157" stroke="#9db5e6" stroke-width="1.4" fill="none"/>
<path d="M6 93H31.5C36 93 37 102.5 42.5 102.5H120.5C126.5 102.5 126.5 93 132 93H157" stroke="#9db5e6" stroke-width="1.4" fill="none"/>
<path d="M117.3 95.8H44C40 95.8 34.7 100 34.7 107V119.5A7.3 7.3 0 1 1 27.6 119.5V107C27.6 103 24 100.2 19.9 100.1" stroke="#7b38a8" stroke-width="1.5" fill="none"/>
<ellipse cx="75.20" cy="50.50" rx="9.42" ry="2.80" transform="rotate(42.0 75.20 50.50)" fill="#f2ac7e"/>
<ellipse cx="107.90" cy="51.80" rx="8.83" ry="2.80" transform="rotate(85.5 107.90 51.80)" fill="#f2ac7e"/>
<ellipse cx="139.75" cy="55.40" rx="9.35" ry="2.80" transform="rotate(70.3 139.75 55.40)" fill="#f2ac7e"/>
<ellipse cx="195.20" cy="19.40" rx="9.21" ry="2.80" transform="rotate(34.4 195.20 19.40)" fill="#f2ac7e"/>
<path d="M54.4 68.8C55.6 65 57 61 61.5 59.3M83.6 50.3C86.5 49.6 89 49.4 91.6 49.6M114.2 55.7C118 56.5 121 58.8 124.8 58.8M149 58.6C151.5 58.6 153 57.2 155.4 56.9M179.5 51.4C183.5 50.8 187 49.5 190.7 46.8" stroke="#8a4418" stroke-width="1.25" fill="none"/>
<path d="M61.5 59.3L83.6 50.1M91.6 49.1L114.2 55.7M124.8 58.7L149 58.6M155.4 57L179.5 51.4" stroke="#c4580e" stroke-width="3.7" fill="none"/>
<ellipse cx="68.70" cy="52.80" rx="9.27" ry="2.90" transform="rotate(83.2 68.70 52.80)" fill="#f2ac7e"/>
<ellipse cx="101.60" cy="50.00" rx="8.88" ry="2.90" transform="rotate(125.8 101.60 50.00)" fill="#f2ac7e"/>
<ellipse cx="133.50" cy="55.40" rx="9.20" ry="2.90" transform="rotate(107.1 133.50 55.40)" fill="#f2ac7e"/>
<ellipse cx="189.30" cy="22.40" rx="8.90" ry="2.90" transform="rotate(75.0 189.30 22.40)" fill="#f2ac7e"/>
<circle cx="66.8" cy="38.1" r="6.2" fill="#a9d38f"/>
<circle cx="108" cy="37.4" r="6.2" fill="#a9d38f"/>
<circle cx="136.9" cy="41.1" r="6.2" fill="#a9d38f"/>
<circle cx="183.2" cy="9.2" r="6.2" fill="#a9d38f"/>
<path d="M164.2 46.8C168.5 37.5 175 30 182.6 24.2" stroke="#111" stroke-width="1.5" fill="none"/>
<path d="M163.4 48.8L163.0 41.6M163.4 48.8L169.6 45.0M183.6 23.4L176.6 24.6M183.6 23.4L181.8 30.4" stroke="#111" stroke-width="1.5" fill="none" stroke-linecap="round"/>
<path d="M203.6 3L246.3 66.5M246.4 74.3L203 138.5" stroke="#8a8a8a" stroke-width="0.6" fill="none"/>
<ellipse cx="263.6" cy="70.6" rx="19" ry="17" fill="#fbdadb"/>
<path d="M241.00 55.00C242.41 53.11 261.89 48.01 263.60 47.60C265.31 47.19 268.98 47.04 270.40 48.00C271.82 48.96 287.00 62.19 288.00 64.00C289.00 65.81 287.76 77.60 287.50 79.00C287.24 80.40 285.09 87.18 283.60 88.00C282.11 88.82 263.96 92.94 262.00 93.00C260.04 93.06 251.31 89.76 250.00 89.00C248.69 88.24 240.03 81.98 239.50 80.00C238.97 78.02 239.59 56.89 241.00 55.00Z" stroke="#4a8fd4" stroke-width="1.3" fill="none" stroke-linejoin="round"/>
<ellipse cx="362.6" cy="42" rx="20.5" ry="18" fill="#fbdadb"/>
<path d="M339.00 25.00C340.56 24.07 361.13 17.43 363.00 17.00C364.87 16.57 369.48 16.55 371.00 17.60C372.52 18.65 387.89 33.23 389.00 35.00C390.11 36.77 390.23 46.54 390.00 48.00C389.77 49.46 386.69 58.86 385.00 60.00C383.31 61.14 362.98 67.27 361.00 67.60C359.02 67.93 352.40 66.33 351.00 65.60C349.60 64.86 337.86 56.90 337.00 55.00C336.14 53.10 336.08 34.75 336.20 33.00C336.32 31.25 337.44 25.93 339.00 25.00Z" stroke="#4a8fd4" stroke-width="1.3" fill="none" stroke-linejoin="round"/>
<ellipse cx="359" cy="103.4" rx="18" ry="14.5" fill="#fbdadb"/>
<path d="M338.00 91.00C339.32 89.27 358.31 82.83 360.00 82.40C361.69 81.97 365.77 82.81 367.00 83.60C368.23 84.39 380.10 94.69 381.00 96.00C381.90 97.31 382.46 104.89 382.40 106.00C382.34 107.11 381.48 113.93 380.00 115.00C378.52 116.07 358.75 123.97 357.00 124.40C355.25 124.83 351.14 123.12 350.00 122.40C348.86 121.68 338.10 113.83 337.40 112.00C336.70 110.17 336.68 92.73 338.00 91.00Z" stroke="#4a8fd4" stroke-width="1.3" fill="none" stroke-linejoin="round"/>
<circle cx="249.6" cy="70.4" r="5" stroke="#777" stroke-width="0.6" fill="none"/>
<circle cx="259.2" cy="59.4" r="2.1" fill="#7fbf6a"/><circle cx="259.2" cy="59.4" r="1" fill="#5aa048"/><circle cx="268.8" cy="62" r="2.1" fill="#7fbf6a"/><circle cx="268.8" cy="62" r="1" fill="#5aa048"/><circle cx="276.4" cy="69.4" r="2.1" fill="#7fbf6a"/><circle cx="276.4" cy="69.4" r="1" fill="#5aa048"/><circle cx="263.6" cy="72.6" r="2.1" fill="#7fbf6a"/><circle cx="263.6" cy="72.6" r="1" fill="#5aa048"/><circle cx="249.6" cy="70" r="2.1" fill="#7fbf6a"/><circle cx="249.6" cy="70" r="1" fill="#5aa048"/><circle cx="257.4" cy="81.6" r="2.1" fill="#7fbf6a"/><circle cx="257.4" cy="81.6" r="1" fill="#5aa048"/><circle cx="268.8" cy="79.6" r="2.1" fill="#7fbf6a"/><circle cx="268.8" cy="79.6" r="1" fill="#5aa048"/><circle cx="358.6" cy="29" r="2.9" fill="#5e8a58"/><circle cx="358.6" cy="29" r="1.5" fill="#2e5a2e"/><circle cx="370.6" cy="32.6" r="2.9" fill="#5e8a58"/><circle cx="370.6" cy="32.6" r="1.5" fill="#2e5a2e"/><circle cx="355.6" cy="37" r="2.9" fill="#5e8a58"/><circle cx="355.6" cy="37" r="1.5" fill="#2e5a2e"/><circle cx="379.6" cy="39.4" r="2.9" fill="#5e8a58"/><circle cx="379.6" cy="39.4" r="1.5" fill="#2e5a2e"/><circle cx="347" cy="42.4" r="2.9" fill="#5e8a58"/><circle cx="347" cy="42.4" r="1.5" fill="#2e5a2e"/><circle cx="362.4" cy="43.6" r="2.9" fill="#5e8a58"/><circle cx="362.4" cy="43.6" r="1.5" fill="#2e5a2e"/><circle cx="374" cy="47.4" r="2.9" fill="#5e8a58"/><circle cx="374" cy="47.4" r="1.5" fill="#2e5a2e"/><circle cx="353.4" cy="53" r="2.9" fill="#5e8a58"/><circle cx="353.4" cy="53" r="1.5" fill="#2e5a2e"/><circle cx="365.6" cy="54" r="2.9" fill="#5e8a58"/><circle cx="365.6" cy="54" r="1.5" fill="#2e5a2e"/><circle cx="364.6" cy="96.4" r="1.8" fill="#a8dc8e"/><circle cx="349.4" cy="104.6" r="1.8" fill="#a8dc8e"/><circle cx="362" cy="109" r="1.8" fill="#a8dc8e"/>
<g transform="translate(292.7,59.3) rotate(-14.72)"><path d="M0 -1.25H29.53V-4.3L40.53 0L29.53 4.3V1.25H0Z" fill="#7f7f7f"/></g>
<g transform="translate(292.7,81.9) rotate(15.00)"><path d="M0 -1.25H29.58V-4.3L40.58 0L29.58 4.3V1.25H0Z" fill="#7f7f7f"/></g>
<text transform="translate(1.40,10.40) scale(1.0,1)" font-size="14" font-weight="bold">a</text>
<text transform="translate(62.40,28.20) scale(1.07,1)" font-size="12.3" fill="#a6d28c">FP</text>
<text transform="translate(2.20,70.50) scale(1.07,1)" font-size="12.3" fill="#f9d2c0">dCas9</text>
<text transform="translate(151.30,74.20) scale(1.1,1)" font-size="12.3" fill="#9a5020">SunTag</text>
<text transform="translate(54.60,117.30) scale(1.07,1)" font-size="12.3" fill="#9fb6e6">Target DNA</text>
<text transform="translate(42.80,135.50) scale(1.07,1)" font-size="12.3" fill="#7a30a0">sgRNA</text>
<text transform="translate(289.60,50.90) rotate(-15) scale(1.07,1)" font-size="12.3">+ H<tspan font-size="8.5" dy="2.6">2</tspan><tspan dy="-2.6">O</tspan></text>
<text transform="translate(286.20,98.20) rotate(15) scale(1.07,1)" font-size="12.3">+ PEG</text>
</svg></body></html>
